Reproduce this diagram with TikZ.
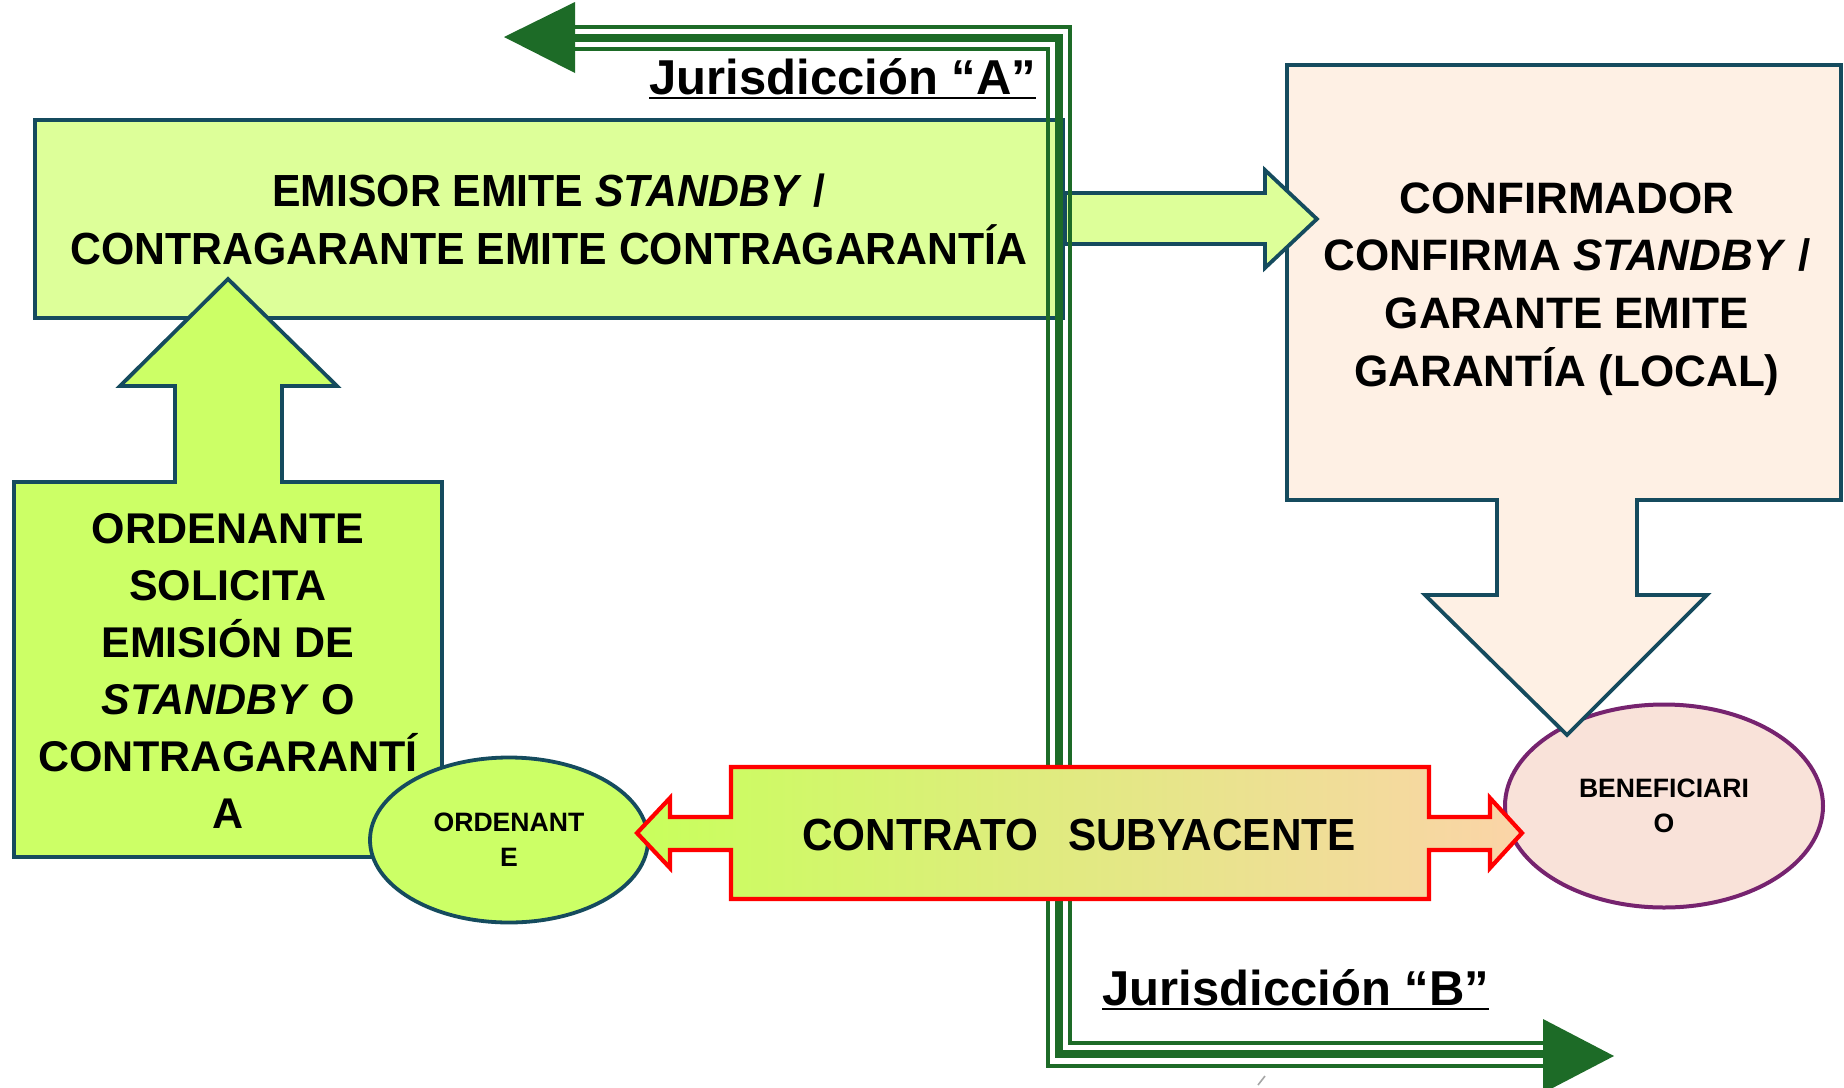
\documentclass[tikz,border=0pt]{standalone}
\usepackage{fontspec}
\usepackage{graphicx}
\setmainfont{Liberation Sans}
\usetikzlibrary{calc,shapes.geometric}
\definecolor{bordteal}{HTML}{154B5E}
\definecolor{limeA}{HTML}{DDFF99}
\definecolor{limeB}{HTML}{CCFF66}
\definecolor{peachbox}{HTML}{FEF0E4}
\definecolor{pinkell}{HTML}{F9E2D9}
\definecolor{purpleb}{HTML}{76236F}
\definecolor{gline}{HTML}{1D6B27}
\definecolor{gradL}{HTML}{C8FF5C}
\definecolor{gradR}{HTML}{FBD4A8}
\begin{document}
\begin{tikzpicture}[x=0.5pt,y=-0.5pt,
  blockline/.style={draw=bordteal, line width=1.9pt, line join=miter},
  lbl/.style={inner sep=0pt, anchor=base},
  emfont/.style={font=\fontsize{22.5}{27}\selectfont\bfseries},
  cffont/.style={font=\fontsize{22}{26}\selectfont\bfseries},
  soffont/.style={font=\fontsize{21.5}{26}\selectfont\bfseries},
  jurfont/.style={font=\fontsize{24.5}{29}\selectfont\bfseries},
  ellfont/.style={font=\fontsize{13.3}{17.5}\selectfont\bfseries, align=center},
  thinline/.style={draw=gline, line width=1.8pt, line join=miter},
  thickline/.style={draw=gline, line width=3.8pt, line join=miter}]
\useasboundingbox (0,0) rectangle (1844,1088);
\fill[white] (0,0) rectangle (1844,1088);

% beneficiario ellipse
\node[ellipse, draw=purpleb, line width=2pt, fill=pinkell, minimum width=159pt, minimum height=101.5pt, inner sep=0pt] (benef) at (1664,806) {};

% confirmador box with down arrow
\coordinate (conf) at (1287,65);
\draw[blockline, fill=peachbox] (conf) -- (1841,65) -- (1841,500) -- (1637,500) -- (1637,595) -- (1707,595) -- (1567,735) -- (1425,595) -- (1497,595) -- (1497,500) -- (1287,500) -- cycle;

% emisor box
\node[blockline, fill=limeA, minimum width=514pt, minimum height=99pt, inner sep=0pt] (emisor) at (549,219) {};

% right block arrow emisor -> confirmador
\draw[blockline, fill=limeA] (emisor.east) ++(0,-26) -- ++(200,0) -- ++(0,-23) -- ++(52,49) -- ++(-52,49) -- ++(0,-24) -- ++(-200,0) -- cycle;

% ordenante solicita box with up arrow
\coordinate (solic) at (14,482);
\draw[blockline, fill=limeB] (solic) -- (175,482) -- (175,386) -- (120,386) -- (228,279) -- (337,386) -- (282,386) -- (282,482) -- (442,482) -- (442,857) -- (14,857) -- cycle;

% ordenante ellipse
\node[ellipse, draw=bordteal, line width=1.9pt, fill=limeB, minimum width=139pt, minimum height=82.5pt, inner sep=0pt] (ord) at (509,840) {};

% jurisdiction triple lines
\coordinate (ja) at (575,38);
\coordinate (jb) at (1543,1055);
\draw[thinline] (575,27) -- (1070,27) -- (1070,1043) -- (1543,1043);
\draw[thickline] (575,38) -- (1059,38) -- (1059,1054) -- (1543,1054);
\draw[thinline] (575,49) -- (1048,49) -- (1048,1066) -- (1543,1066);
\fill[gline] (ja) ++(0,-36) -- (504,37) -- (575,73) -- cycle;
\fill[gline] (jb) ++(0,-36) -- (1614,1056) -- (1543,1093) -- cycle;

% contrato subyacente
\coordinate (contr) at (731,767);
\path[draw=red, line width=2.1pt, line join=miter, left color=gradL, right color=gradR]
  (contr) -- (1429,767) -- (1429,817) -- (1490,817) -- (1490,798) -- (1522,833) -- (1490,868) -- (1490,850) -- (1429,850) -- (1429,899) -- (731,899) -- (731,850) -- (670,850) -- (670,868) -- (637,833) -- (670,798) -- (670,817) -- (731,817) -- cycle;

% texts
\node[lbl, emfont] (em1) at (549,206) {\scalebox{0.95}[1]{EMISOR EMITE \textit{STANDBY} /}};
\node[lbl, emfont] (em2) at (549,264) {\scalebox{0.95}[1]{CONTRAGARANTE EMITE CONTRAGARANTÍA}};

\node[lbl, cffont] (cf1) at (1567,213) {CONFIRMADOR};
\node[lbl, cffont] (cf2) at (1567,270) {CONFIRMA \textit{STANDBY} /};
\node[lbl, cffont] (cf3) at (1567,328) {GARANTE EMITE};
\node[lbl, cffont] (cf4) at (1567,386) {GARANTÍA (LOCAL)};

\node[lbl, soffont] (so1) at (228,543) {ORDENANTE};
\node[lbl, soffont] (so2) at (228,600) {SOLICITA};
\node[lbl, soffont] (so3) at (228,657) {EMISIÓN DE};
\node[lbl, soffont] (so4) at (228,714) {\textit{STANDBY} O};
\node[lbl, soffont] (so5) at (228,771) {CONTRAGARANTÍ};
\node[lbl, soffont] (so6) at (228,828) {A};

\node[ellfont, inner sep=0pt] (ordt) at (ord.center) {ORDENANT\\E};
\node[ellfont, inner sep=0pt] (beneft) at (benef.center) {BENEFICIARI\\O};

\node[lbl, emfont] (ct) at (1079,850) {\scalebox{0.94}[1]{CONTRATO\hspace{16pt}SUBYACENTE}};

\node[lbl, jurfont, anchor=base west] (jurA) at (649,94) {Jurisdicción “A”};
\draw[line width=1.2pt] ($(jurA.base west)+(0,4)$) -- ($(jurA.base east)+(0,4)$);
\node[lbl, jurfont, anchor=base west] (jurB) at (1102,1005) {Jurisdicción “B”};
\draw[line width=1.2pt] ($(jurB.base west)+(0,4)$) -- ($(jurB.base east)+(0,4)$);

\draw[gray!70, line width=0.8pt] (1258,1085) -- (1265,1076);
\end{tikzpicture}
\end{document}
